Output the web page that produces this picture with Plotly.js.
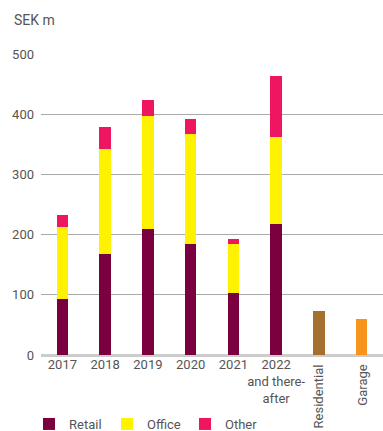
<!DOCTYPE html>
<html><head><meta charset="utf-8">
<script src="https://cdn.plot.ly/plotly-3.0.1.min.js"></script>
<style>html,body{margin:0;padding:0;background:#fff}#c{width:383px;height:431px}</style>
</head><body><div id="c"></div>
<script>
var categories = ['2017','2018','2019','2020','2021','2022','Residential','Garage'];
var tickLabels = ['2017','2018','2019','2020','2021','2022<br>and there-<br>after','',''];
var years = ['2017','2018','2019','2020','2021','2022'];
var retail = [93,168,210,185,103,218];
var office = [120,175,187,182,82,144];
var other = [20,35,26,25,8,101];
var residential = [73];
var garage = [60];
var rotatedLabels = ['Residential','Garage'];

var font = {family:'Roboto, "DejaVu Sans", sans-serif', size:13, color:'#555'};
var bw = 0.27;
var traces = [
 {type:'bar', name:'Retail', x:years, y:retail, marker:{color:'#7B003F'}, width:bw},
 {type:'bar', name:'Office', x:years, y:office, marker:{color:'#FFF200'}, width:bw},
 {type:'bar', name:'Other', x:years, y:other, marker:{color:'#EE1660'}, width:bw},
 {type:'bar', name:'Residential', x:['Residential'], y:residential, marker:{color:'#A5702F'}, width:bw, showlegend:false},
 {type:'bar', name:'Garage', x:['Garage'], y:garage, marker:{color:'#F7941D'}, width:bw, showlegend:false}
];
var annotations = rotatedLabels.map(function(t){
  return {x:t, xref:'x', y:-0.025, yref:'paper', text:t, showarrow:false, textangle:-90,
    xanchor:'center', yanchor:'top', font:font};
});
annotations.push({xref:'paper', yref:'paper', x:-29/342, y:(431-20-76)/301, xanchor:'left', yanchor:'middle', text:'SEK m', showarrow:false, font:{family:font.family, size:14, color:'#555'}});
var layout = {
  width:383, height:431,
  margin:{l:41, r:0, t:54, b:76, pad:0, autoexpand:false},
  barmode:'stack',
  paper_bgcolor:'#fff', plot_bgcolor:'#fff',
  font:font,
  showlegend:true,
  legend:{orientation:'h', x:-12/342, xanchor:'left', y:-54/301, yanchor:'top', font:font, traceorder:'normal',
    itemwidth:30, entrywidth:33, entrywidthmode:'pixels'},
  xaxis:{type:'category', categoryorder:'array', categoryarray:categories, tickvals:categories, ticktext:tickLabels,
    tickangle:0, automargin:false, showgrid:false, ticks:'', tickfont:font, showline:false, zeroline:false},
  yaxis:{range:[0,500], tickvals:[0,100,200,300,400,500], automargin:false, showgrid:true, gridcolor:'#aaa', gridwidth:1,
    zeroline:true, zerolinecolor:'#ccc', zerolinewidth:3, ticks:'', tickfont:font, ticklabelstandoff:6, showline:false},
  annotations:annotations
};
Plotly.newPlot('c', traces, layout, {displayModeBar:false, staticPlot:true});
</script></body></html>
